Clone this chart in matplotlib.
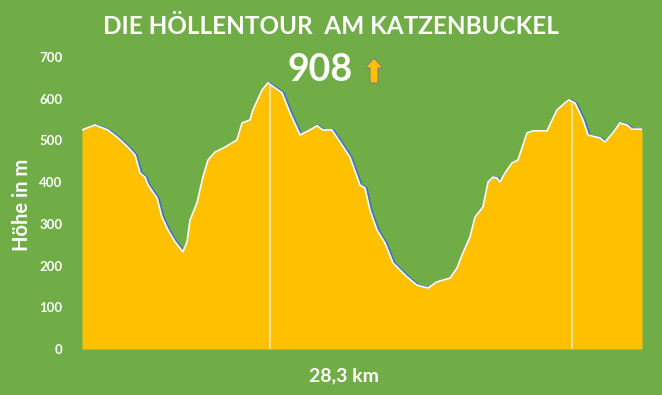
import matplotlib
matplotlib.use('Agg')
import matplotlib.pyplot as plt
from matplotlib.patches import Polygon
import numpy as np

# ---- data ----
distance_km = [0.00, 0.66, 1.31, 1.82, 2.32, 2.68, 2.93, 3.18, 3.34, 3.79, 4.04, 4.35,
               4.70, 5.10, 5.31, 5.46, 5.81, 6.11, 6.37, 6.72, 7.23, 7.83, 8.09, 8.49,
               8.64, 9.10, 9.40, 9.75, 10.11, 10.51, 11.02, 11.52, 11.88, 12.18, 12.63,
               13.04, 13.54, 14.05, 14.30, 14.55, 14.91, 15.31, 15.72, 16.42, 16.93,
               17.49, 17.94, 18.60, 18.95, 19.25, 19.61, 19.86, 20.26, 20.52, 20.77,
               20.97, 21.12, 21.38, 21.73, 22.03, 22.49, 22.79, 23.50, 24.00, 24.41,
               24.61, 24.91, 25.32, 25.57, 26.18, 26.43, 26.83, 27.19, 27.54, 27.79, 28.30]
elevation_m = [525, 537, 525, 506, 484, 465, 422, 412, 393, 362, 316, 285,
               257, 233, 257, 309, 350, 412, 453, 472, 484, 501, 542, 549,
               573, 621, 638, 626, 614, 566, 513, 525, 535, 525, 525,
               496, 460, 393, 386, 333, 285, 254, 206, 173, 153,
               146, 161, 170, 194, 230, 269, 316, 340, 400, 412,
               410, 400, 422, 446, 453, 518, 523, 523, 573, 590,
               597, 590, 549, 513, 506, 496, 518, 542, 537, 527, 527]
peak_markers_km = [9.50, 24.76]
y_ticks = [0, 100, 200, 300, 400, 500, 600, 700]
title = "DIE HÖLLENTOUR  AM KATZENBUCKEL"
ascent_label = "908"
x_label = "28,3 km"
y_label = "Höhe in m"

W, H = 662, 395
GREEN = '#70AD47'
FONT = ['Lato', 'DejaVu Sans']

fig = plt.figure(figsize=(W / 100, H / 100), dpi=100, facecolor=GREEN)
ax = fig.add_axes([82 / W, (H - 349) / H, 560 / W, 292 / H])
ax.set_facecolor(GREEN)
ax.set_xlim(0, 28.3)
ax.set_ylim(0, 700)

ax.plot(np.array(distance_km) + 0.09, elevation_m, color='#4472C4', lw=1.3, zorder=1)
ax.fill_between(distance_km, elevation_m, 0, color='#FFC000', lw=0, zorder=2)
ax.plot(distance_km, elevation_m, color='white', lw=1.2, zorder=3)
for m in peak_markers_km:
    e = np.interp(m, distance_km, elevation_m)
    ax.vlines(m, 0, e - 4, color='#FFE38A', lw=1.5, zorder=4)

for s in ax.spines.values():
    s.set_visible(False)
ax.set_xticks([])
ax.set_yticks(y_ticks)
ax.set_yticklabels([str(t) for t in y_ticks], color='white', fontweight='bold',
                   fontsize=9.5, family=FONT)
ax.tick_params(axis='y', length=0, pad=14)

fig.text(331 / W, 1 - 27 / H, title, color='white', fontsize=17.5, fontweight='bold',
         ha='center', va='center', family=FONT)
fig.text(320 / W, 1 - 70 / H, ascent_label, color='white', fontsize=27, fontweight='bold',
         ha='center', va='center', family=FONT)
fig.text(22 / W, 1 - 205 / H, y_label, color='white', fontsize=14.5, fontweight='bold',
         ha='center', va='center', rotation=90, family=FONT)
fig.text(344 / W, 1 - 376 / H, x_label, color='white', fontsize=14, fontweight='bold',
         ha='center', va='center', family=FONT)

# up arrow next to the ascent value
ax_px = [(370, 83), (378, 83), (378, 68), (383, 68), (374, 58), (365, 68), (370, 68)]
arrow = Polygon([(x / W, 1 - y / H) for x, y in ax_px], closed=True,
                facecolor='#FFC000', edgecolor='#7F7F7F', lw=0.8, transform=fig.transFigure)
fig.add_artist(arrow)

fig.savefig('out.png', dpi=100, facecolor=GREEN)
